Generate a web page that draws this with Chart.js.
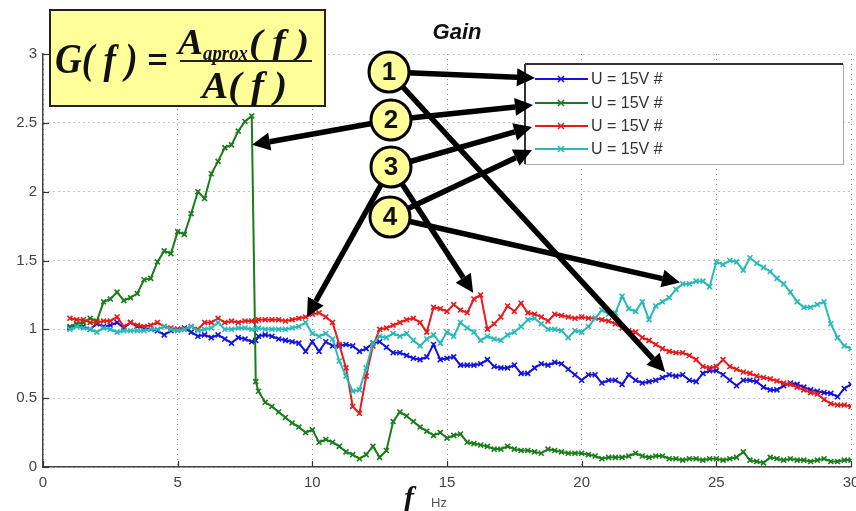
<!DOCTYPE html>
<html>
<head>
<meta charset="utf-8">
<script src="https://cdn.jsdelivr.net/npm/chart.js@4.4.1/dist/chart.umd.min.js"></script>
<style>
  html, body { margin: 0; padding: 0; background: #fff; overflow: hidden; }
  #wrap { width: 870px; height: 511px; position: relative; }
</style>
</head>
<body>
<div id="wrap"><canvas id="gain"></canvas></div>
<script>
// frequency axis (Hz), shared by all four series
const freqs = [
  1, 1.25, 1.5, 1.75,
  2, 2.25, 2.5, 2.75,
  3, 3.25, 3.5, 3.75,
  4, 4.25, 4.5, 4.75,
  5, 5.25, 5.5, 5.75,
  6, 6.25, 6.5, 6.75,
  7, 7.25, 7.5, 7.75, 7.9,
  8, 8.25, 8.5, 8.75,
  9, 9.25, 9.5, 9.75,
  10, 10.25, 10.5, 10.75,
  11, 11.25, 11.5, 11.75,
  12, 12.25, 12.5, 12.75,
  13, 13.25, 13.5, 13.75,
  14, 14.25, 14.5, 14.75,
  15, 15.25, 15.5, 15.75,
  16, 16.25, 16.5, 16.75,
  17, 17.25, 17.5, 17.75,
  18, 18.25, 18.5, 18.75,
  19, 19.25, 19.5, 19.75,
  20, 20.25, 20.5, 20.75,
  21, 21.25, 21.5, 21.75,
  22, 22.25, 22.5, 22.75,
  23, 23.25, 23.5, 23.75,
  24, 24.25, 24.5, 24.75,
  25, 25.25, 25.5, 25.75,
  26, 26.25, 26.5, 26.75,
  27, 27.25, 27.5, 27.75,
  28, 28.25, 28.5, 28.75,
  29, 29.25, 29.5, 29.75,
  30,
];

const gainBlue = [
  1.01, 1.03, 1.02, 1.0,
  1.04, 1.02, 1.03, 1.05,
  1.01, 1.05, 1.02, 1.01,
  1.0, 0.99, 0.96, 0.99,
  1.0, 1.01, 0.98, 0.95,
  0.96, 0.94, 0.96, 0.93,
  0.9, 0.94, 0.93, 0.91, 0.92,
  0.95, 0.96, 0.95, 0.93,
  0.92, 0.91, 0.9, 0.84,
  0.91, 0.84, 0.91, 0.88,
  0.88, 0.89, 0.88, 0.84,
  0.86, 0.9, 0.91, 0.87,
  0.83, 0.83, 0.81, 0.79,
  0.78, 0.8, 0.89, 0.78,
  0.79, 0.8, 0.74, 0.74,
  0.74, 0.75, 0.78, 0.73,
  0.72, 0.72, 0.74, 0.68,
  0.68, 0.72, 0.75, 0.74,
  0.76, 0.75, 0.71, 0.67,
  0.63, 0.67, 0.67, 0.61,
  0.63, 0.63, 0.6, 0.67,
  0.63, 0.61, 0.62, 0.63,
  0.65, 0.67, 0.66, 0.67,
  0.63, 0.62, 0.68, 0.7,
  0.7, 0.67, 0.63, 0.59,
  0.63, 0.63, 0.62, 0.58,
  0.56, 0.56, 0.59, 0.61,
  0.6, 0.58, 0.56, 0.55,
  0.54, 0.535, 0.51, 0.57,
  0.6,
];

const gainGreen = [
  1.02, 1.04, 1.05, 1.08,
  1.06, 1.2, 1.22, 1.27,
  1.21, 1.23, 1.26, 1.36,
  1.37, 1.49, 1.57, 1.55,
  1.71, 1.69, 1.84, 2.0,
  1.95, 2.13, 2.22, 2.32,
  2.34, 2.44, 2.51, 2.55, 0.62,
  0.55, 0.47, 0.44, 0.4,
  0.36, 0.32, 0.29, 0.25,
  0.27, 0.18, 0.2, 0.18,
  0.15, 0.11, 0.09, 0.06,
  0.09, 0.15, 0.07, 0.12,
  0.33, 0.4, 0.37, 0.33,
  0.29, 0.26, 0.23, 0.25,
  0.21, 0.23, 0.24, 0.18,
  0.17, 0.16, 0.15, 0.13,
  0.13, 0.15, 0.13, 0.12,
  0.12, 0.11, 0.1, 0.13,
  0.12, 0.11, 0.1, 0.1,
  0.1, 0.09, 0.08, 0.06,
  0.07, 0.07, 0.07, 0.08,
  0.1, 0.08, 0.07, 0.08,
  0.08, 0.06, 0.06, 0.05,
  0.06, 0.06, 0.05, 0.06,
  0.06, 0.05, 0.06, 0.07,
  0.11, 0.05, 0.04, 0.03,
  0.07, 0.06, 0.05, 0.06,
  0.05, 0.05, 0.04, 0.05,
  0.06, 0.04, 0.04, 0.05,
  0.05,
];

const gainRed = [
  1.08, 1.07, 1.07, 1.05,
  1.05, 1.06, 1.06, 1.09,
  1.02, 1.05, 1.03, 1.02,
  1.03, 1.05, 1.02, 1.01,
  1.0, 1.0, 1.02, 1.0,
  1.05, 1.05, 1.08, 1.05,
  1.06, 1.05, 1.06, 1.06, 1.06,
  1.07, 1.07, 1.07, 1.07,
  1.06, 1.07, 1.08, 1.09,
  1.11, 1.12, 1.09, 1.05,
  0.89, 0.72, 0.44, 0.39,
  0.66, 0.88, 1.0, 1.01,
  1.03, 1.05, 1.07, 1.08,
  1.05, 0.98, 1.16, 1.15,
  1.13, 1.18, 1.14, 1.12,
  1.22, 1.25, 1.0, 1.04,
  1.09, 1.17, 1.13, 1.19,
  1.12, 1.11, 1.09, 1.06,
  1.11, 1.1, 1.09, 1.08,
  1.09, 1.08, 1.08, 1.07,
  1.06, 1.04, 1.01, 0.99,
  0.98, 0.94, 0.92, 0.89,
  0.86, 0.84, 0.83, 0.83,
  0.81, 0.78, 0.73, 0.72,
  0.73, 0.78, 0.73, 0.71,
  0.69, 0.68, 0.66, 0.65,
  0.64, 0.625, 0.61, 0.6,
  0.58, 0.56, 0.54, 0.53,
  0.49, 0.46, 0.45, 0.45,
  0.44,
];

const gainCyan = [
  1.0, 1.02, 1.01, 1.0,
  0.98, 1.01, 1.0, 0.98,
  0.99, 0.99, 0.99, 0.99,
  1.0, 1.0, 1.02, 1.0,
  0.99, 1.0, 1.02, 0.99,
  1.0, 1.01, 1.05, 1.0,
  1.0, 1.01, 1.01, 1.0, 1.0,
  1.01, 1.0, 1.0, 1.0,
  1.0, 1.01, 1.02, 1.05,
  0.97, 0.95, 0.97, 0.93,
  0.77, 0.66, 0.55, 0.56,
  0.72, 0.9, 0.95, 0.94,
  0.97, 0.95, 0.97, 0.92,
  0.88, 0.93, 0.96, 0.9,
  0.98, 0.95, 1.05, 1.01,
  0.98, 0.92, 0.95, 0.93,
  0.92, 0.96, 0.98, 1.02,
  1.07, 1.08, 1.04, 1.0,
  1.0, 0.99, 0.94, 0.99,
  0.98, 1.02, 1.08, 1.14,
  1.11, 1.12, 1.24, 1.15,
  1.13, 1.2, 1.07, 1.17,
  1.2, 1.23, 1.29, 1.33,
  1.33, 1.35, 1.35, 1.31,
  1.49, 1.47, 1.5, 1.49,
  1.43, 1.52, 1.48, 1.45,
  1.42, 1.37, 1.33, 1.27,
  1.2, 1.16, 1.16, 1.18,
  1.2, 1.04, 0.94, 0.88,
  0.86,
];

const seriesLabels = ['U = 15V #', 'U = 15V #', 'U = 15V #', 'U = 15V #'];
const seriesColors = ['rgb(20,20,225)', 'rgb(25,125,25)', 'rgb(235,25,25)', 'rgb(40,185,185)'];
const xTicks = [0, 5, 10, 15, 20, 25, 30];
const yTicks = [0, 0.5, 1, 1.5, 2, 2.5, 3];

// callouts: circle number -> targets as [freq, gain] on the curves
const callouts = [
  { num: '1', legendRow: 0, points: [[23.1, 0.69]] },
  { num: '2', legendRow: 1, points: [[7.76, 2.34]] },
  { num: '3', legendRow: 2, points: [[9.8, 1.09], [15.97, 1.265]] },
  { num: '4', legendRow: 3, points: [[23.65, 1.34]] },
];

function toPoints(values) {
  return freqs.map((f, i) => ({ x: f, y: values[i] }));
}

function fitText(ctx, text, x, y, font, width) {
  ctx.font = font;
  const w = ctx.measureText(text).width;
  ctx.save();
  ctx.translate(x, y);
  ctx.scale(width / w, 1);
  ctx.fillText(text, 0, 0);
  ctx.restore();
}

function drawArrow(ctx, x1, y1, x2, y2) {
  const a = Math.atan2(y2 - y1, x2 - x1);
  const hl = 18, hw = 9;
  const bx = x2 - hl * Math.cos(a);
  const by = y2 - hl * Math.sin(a);
  ctx.beginPath();
  ctx.moveTo(x1, y1);
  ctx.lineTo(bx, by);
  ctx.lineWidth = 5.5;
  ctx.stroke();
  ctx.beginPath();
  ctx.moveTo(x2, y2);
  ctx.lineTo(bx + hw * Math.sin(a), by - hw * Math.cos(a));
  ctx.lineTo(bx - hw * Math.sin(a), by + hw * Math.cos(a));
  ctx.closePath();
  ctx.fill();
}

function drawCross(ctx, x, y, r) {
  ctx.beginPath();
  ctx.moveTo(x - r, y - r); ctx.lineTo(x + r, y + r);
  ctx.moveTo(x - r, y + r); ctx.lineTo(x + r, y - r);
  ctx.stroke();
}

const overlay = {
  id: 'overlay',
  afterDraw(chart) {
    const ctx = chart.ctx;
    const xs = chart.scales.x;
    const ys = chart.scales.y;
    const area = chart.chartArea;

    ctx.save();

    // inward tick marks
    ctx.strokeStyle = '#333';
    ctx.lineWidth = 1.2;
    xTicks.forEach(v => {
      const px = Math.round(xs.getPixelForValue(v)) + 0.5;
      ctx.beginPath(); ctx.moveTo(px, area.bottom); ctx.lineTo(px, area.bottom - 6); ctx.stroke();
    });
    yTicks.forEach(v => {
      const py = Math.round(ys.getPixelForValue(v)) + 0.5;
      ctx.beginPath(); ctx.moveTo(area.left, py); ctx.lineTo(area.left + 6, py); ctx.stroke();
    });

    // title and axis label
    ctx.fillStyle = '#111';
    ctx.textAlign = 'center';
    ctx.textBaseline = 'alphabetic';
    ctx.font = 'bold italic 22px "Liberation Sans", Arial';
    ctx.fillText('Gain', 457, 39);
    ctx.textAlign = 'left';
    ctx.font = 'bold italic 30px "Liberation Serif", serif';
    ctx.fillText('f', 404, 507);
    ctx.fillStyle = '#555';
    ctx.font = '13px "Liberation Sans", Arial';
    ctx.fillText('Hz', 431, 507);

    // formula box
    ctx.fillStyle = '#ffff99';
    ctx.fillRect(50, 10, 275, 96);
    ctx.strokeStyle = '#222';
    ctx.lineWidth = 2;
    ctx.strokeRect(50, 10, 275, 96);
    ctx.fillStyle = '#111';
    fitText(ctx, 'G( f ) =', 55, 73, 'bold italic 42px "Liberation Serif"', 113);
    fitText(ctx, 'A', 178, 54, 'bold italic 36px "Liberation Serif"', 25);
    fitText(ctx, 'aprox', 203, 60, 'bold italic 21px "Liberation Serif"', 45);
    fitText(ctx, '( f )', 249, 54, 'bold italic 36px "Liberation Serif"', 60);
    fitText(ctx, 'A( f )', 202, 98, 'bold italic 38px "Liberation Serif"', 85);
    ctx.beginPath();
    ctx.moveTo(180, 61); ctx.lineTo(312, 61);
    ctx.lineWidth = 2;
    ctx.stroke();

    // legend
    const lg = { left: 525, top: 64, right: 843, bottom: 164 };
    const rows = [79, 103, 126, 149];
    ctx.fillStyle = '#fff';
    ctx.fillRect(lg.left, lg.top, lg.right - lg.left, lg.bottom - lg.top);
    ctx.strokeStyle = '#aaa';
    ctx.lineWidth = 1;
    ctx.strokeRect(lg.left + 0.5, lg.top + 0.5, lg.right - lg.left, lg.bottom - lg.top);
    ctx.strokeStyle = '#333';
    ctx.lineWidth = 2;
    ctx.beginPath();
    ctx.moveTo(lg.left, lg.top); ctx.lineTo(lg.right, lg.top);
    ctx.moveTo(lg.left, lg.top); ctx.lineTo(lg.left, lg.bottom);
    ctx.stroke();
    ctx.font = '16px "Liberation Sans", Arial';
    ctx.textBaseline = 'middle';
    seriesLabels.forEach((label, i) => {
      ctx.strokeStyle = seriesColors[i];
      ctx.lineWidth = 2;
      ctx.beginPath(); ctx.moveTo(535, rows[i]); ctx.lineTo(588, rows[i]); ctx.stroke();
      ctx.lineWidth = 1.5;
      drawCross(ctx, 561, rows[i], 3);
      ctx.fillStyle = '#333';
      ctx.fillText(label, 591, rows[i] + 1);
    });

    // arrows, then the numbered circles on top
    const circles = [[389, 72], [391, 120], [391, 167], [390, 217]];
    const legendTips = [[535, 78], [533, 105], [532, 127], [532, 150]];
    ctx.strokeStyle = '#000';
    ctx.fillStyle = '#000';
    ctx.lineCap = 'butt';
    callouts.forEach((c, i) => {
      const [cx, cy] = circles[i];
      const tip = legendTips[c.legendRow];
      drawArrow(ctx, cx, cy, tip[0], tip[1]);
      c.points.forEach(p => {
        drawArrow(ctx, cx, cy, xs.getPixelForValue(p[0]), ys.getPixelForValue(p[1]));
      });
    });
    ctx.textAlign = 'center';
    ctx.textBaseline = 'middle';
    ctx.font = 'bold 26px "Liberation Sans", Arial';
    callouts.forEach((c, i) => {
      const [cx, cy] = circles[i];
      ctx.beginPath();
      ctx.arc(cx, cy, 20, 0, Math.PI * 2);
      ctx.fillStyle = '#ffff99';
      ctx.fill();
      ctx.lineWidth = 3;
      ctx.strokeStyle = '#000';
      ctx.stroke();
      ctx.fillStyle = '#111';
      ctx.fillText(c.num, cx, cy + 1);
    });

    ctx.restore();
  },
};

function buildDataset(values, i) {
  return {
    label: seriesLabels[i],
    data: toPoints(values),
    borderColor: seriesColors[i],
    backgroundColor: seriesColors[i],
    borderWidth: 2,
    pointStyle: 'crossRot',
    pointRadius: 3.5,
    pointBorderWidth: 1.6,
    pointBorderColor: seriesColors[i],
    tension: 0,
    order: 3 - i,
  };
}

function buildChart() {
  const tickFont = { family: '"Liberation Sans", Arial', size: 15 };
  const config = {
    type: 'line',
    data: {
      datasets: [gainBlue, gainGreen, gainRed, gainCyan].map(buildDataset),
    },
    options: {
      responsive: true,
      maintainAspectRatio: false,
      animation: false,
      events: [],
      layout: { padding: { top: 54, right: 19, left: 0, bottom: 0 } },
      plugins: {
        legend: { display: false },
        title: { display: false },
        tooltip: { enabled: false },
      },
      scales: {
        x: {
          type: 'linear',
          min: 0,
          max: 30,
          afterFit: s => { s.height = 44; },
          afterBuildTicks: s => { s.ticks = xTicks.map(v => ({ value: v })); },
          ticks: { padding: 7, color: '#444', font: tickFont, maxRotation: 0, callback: v => String(v) },
          grid: { color: '#8a8a8a', lineWidth: 1, drawTicks: false },
          border: { color: '#444', width: 1.5, dash: [1, 4] },
        },
        y: {
          min: 0,
          max: 3,
          afterFit: s => { s.width = 43; },
          afterBuildTicks: s => { s.ticks = yTicks.map(v => ({ value: v })); },
          ticks: { padding: 6, color: '#444', font: tickFont, callback: v => String(v) },
          grid: { color: '#8a8a8a', lineWidth: 1, drawTicks: false },
          border: { color: '#444', width: 1.5, dash: [1, 4] },
        },
      },
    },
    plugins: [overlay],
  };
  new Chart(document.getElementById('gain'), config);
}

buildChart();
</script>
</body>
</html>
